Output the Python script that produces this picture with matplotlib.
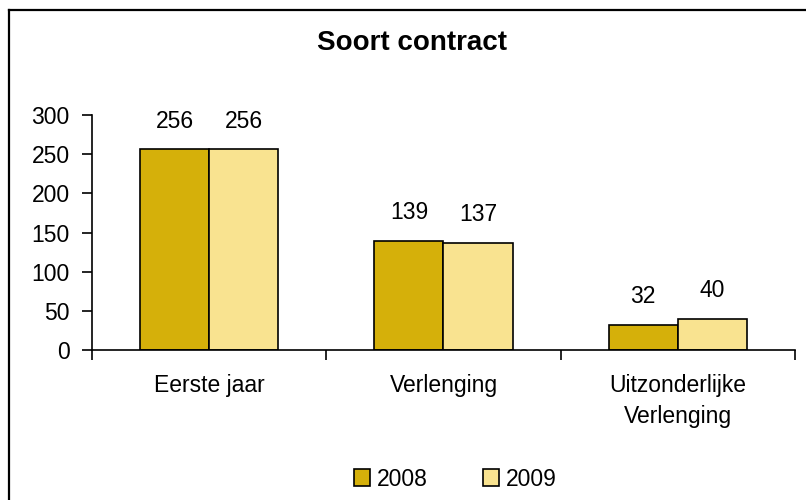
import matplotlib.pyplot as plt
import numpy as np
from matplotlib.lines import Line2D
from matplotlib.patches import Patch

# Data
categories = ['Eerste jaar', 'Verlenging', 'Uitzonderlijke\nVerlenging']
years = ['2008', '2009']
values_2008 = [256, 139, 32]
values_2009 = [256, 137, 40]
colors = ['#D5B00A', '#F9E390']

plt.rcParams['font.family'] = ['Liberation Sans', 'DejaVu Sans']

fig = plt.figure(figsize=(8.06, 5.0), dpi=100)
ax = fig.add_axes([92 / 806, 1 - 350 / 500, 703 / 806, 235 / 500])

x = np.arange(len(categories))
w = 0.295
bars1 = ax.bar(x - w / 2, values_2008, w, color=colors[0], edgecolor='black', linewidth=1.2)
bars2 = ax.bar(x + w / 2, values_2009, w, color=colors[1], edgecolor='black', linewidth=1.2)

# value labels above bars
for bars in (bars1, bars2):
    for b in bars:
        ax.annotate(str(int(b.get_height())), (b.get_x() + b.get_width() / 2, b.get_height()),
                    xytext=(0, 12), textcoords='offset points', ha='center', va='bottom', fontsize=16.5)

ax.set_xlim(-0.5, len(categories) - 0.5)
ax.set_ylim(0, 300)
ax.set_yticks(range(0, 301, 50))
ax.set_xticks(x)
ax.set_xticklabels(categories, fontsize=16.5, linespacing=1.45)
ax.set_xticks(np.arange(-0.5, len(categories), 1), minor=True)
ax.tick_params(axis='x', which='major', length=0, pad=17)
ax.tick_params(axis='x', which='minor', length=7, width=1.2, direction='out')
ax.tick_params(axis='y', length=7, width=1.2, pad=9, labelsize=16.5)

for s in ['top', 'right']:
    ax.spines[s].set_visible(False)
for s in ['left', 'bottom']:
    ax.spines[s].set_linewidth(1.2)

fig.text(412 / 806, 1 - 43 / 500, 'Soort contract', ha='center', va='center',
         fontsize=20, fontweight='bold')

handles = [Patch(facecolor=c, edgecolor='black', linewidth=1.2) for c in colors]
fig.legend(handles, years, loc='center', bbox_to_anchor=(455 / 806, 1 - 479 / 500),
           ncol=2, frameon=False, fontsize=16.5, handlelength=0.7, handleheight=0.7,
           handletextpad=0.3, columnspacing=2.4)

# chart border
fig.add_artist(Line2D([9 / 806, 9 / 806], [0, 1 - 10 / 500], color='black', linewidth=1.6))
fig.add_artist(Line2D([9 / 806, 1], [1 - 10 / 500, 1 - 10 / 500], color='black', linewidth=1.6))

fig.savefig('out.png', dpi=100)
